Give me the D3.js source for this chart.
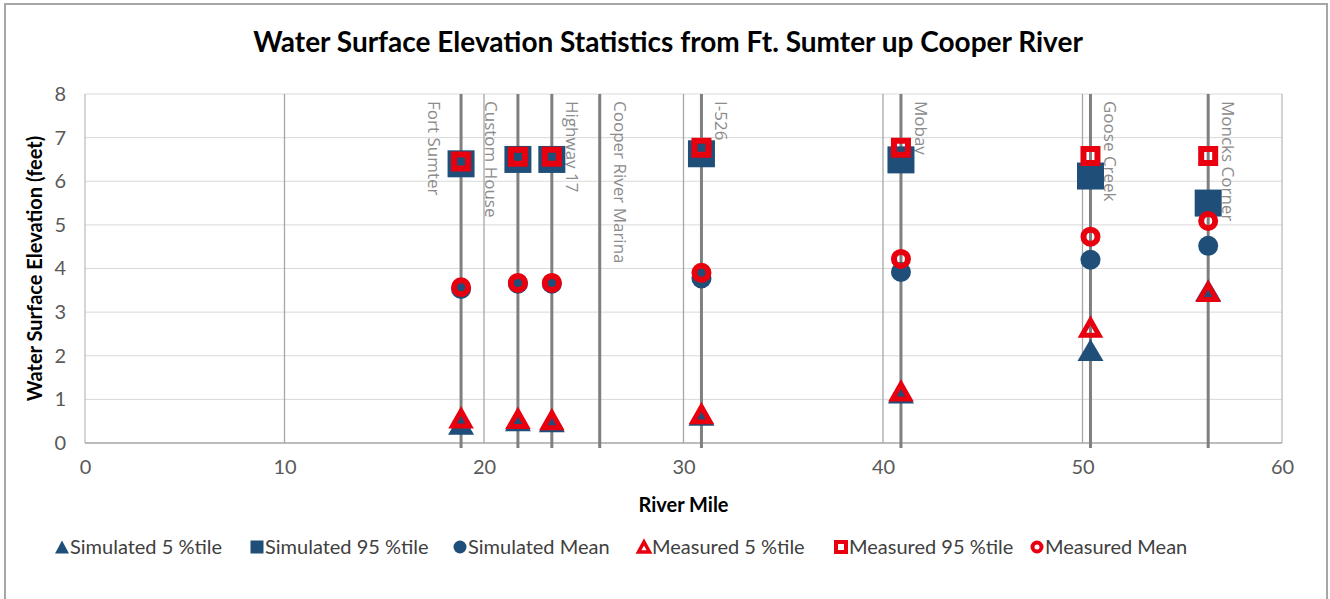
<!DOCTYPE html>
<html>
<head>
<meta charset="utf-8">
<script src="https://cdn.jsdelivr.net/npm/d3@7"></script>
<style>
  html, body { margin: 0; padding: 0; background: #ffffff; }
  svg { display: block; }
</style>
</head>
<body>
<svg id="chart" width="1330" height="599"></svg>
<script>
// ---------------- data ----------------
const stations = ["Fort Sumter", "Custom House", "Highway 17", "Cooper River Marina", "I-526", "Mobay", "Goose Creek", "Moncks Corner"];
const stationMiles = [18.85, 21.7, 23.4, 25.8, 30.9, 40.9, 50.4, 56.3];
const labelSide = ["left", "left", "right", "right", "right", "right", "right", "right"];

const sim5     = [0.44, 0.52, 0.50, null, 0.65, 1.16, 2.13, 3.50];
const sim95    = [6.40, 6.50, 6.50, null, 6.63, 6.49, 6.12, 5.50];
const simMean  = [3.53, 3.65, 3.65, null, 3.77, 3.92, 4.20, 4.52];
const meas5    = [0.56, 0.55, 0.52, null, 0.66, 1.18, 2.64, 3.46];
const meas95   = [6.45, 6.56, 6.56, null, 6.77, 6.77, 6.58, 6.58];
const measMean = [3.57, 3.67, 3.67, null, 3.90, 4.22, 4.73, 5.09];

const seriesNames = ["Simulated 5 %tile", "Simulated 95 %tile", "Simulated Mean", "Measured 5 %tile", "Measured 95 %tile", "Measured Mean"];
const yTicks = [0, 1, 2, 3, 4, 5, 6, 7, 8];
const xTicks = [0, 10, 20, 30, 40, 50, 60];

const titleText = "Water Surface Elevation Statistics from Ft. Sumter up Cooper River";
const xTitle = "River Mile";
const yTitle = "Water Surface Elevation (feet)";

// ---------------- drawing ----------------
const BLUE = "#1f4e79";
const RED = "#e8000e";
const FONT = "Lato, 'Open Sans', sans-serif";

const svg = d3.select("#chart");
const x = d3.scaleLinear().domain([0, 60]).range([85, 1282]);
const y = d3.scaleLinear().domain([0, 8]).range([443, 94]);

// outer chart border
svg.append("rect").attr("x", 5).attr("y", 4).attr("width", 1322).attr("height", 610)
  .attr("fill", "#fff").attr("stroke", "#a6a6a6").attr("stroke-width", 2);

// title
svg.append("text").attr("x", 668).attr("y", 52).attr("text-anchor", "middle")
  .attr("font-family", FONT).attr("font-weight", "bold").attr("font-size", 28)
  .attr("fill", "#000").text(titleText);

// horizontal gridlines
svg.append("g").selectAll("line").data(yTicks.filter(d => d > 0)).join("line")
  .attr("x1", x(0)).attr("x2", x(60)).attr("y1", d => y(d)).attr("y2", d => y(d))
  .attr("stroke", "#d9d9d9").attr("stroke-width", 1);

// vertical gridlines
svg.append("g").selectAll("line").data(xTicks).join("line")
  .attr("x1", d => x(d)).attr("x2", d => x(d)).attr("y1", y(8)).attr("y2", y(0))
  .attr("stroke", d => d === 0 ? "#bfbfbf" : "#a6a6a6").attr("stroke-width", d => d === 60 ? 1 : 1.3);

// x axis line
svg.append("line").attr("x1", x(0)).attr("x2", x(60)).attr("y1", y(0)).attr("y2", y(0))
  .attr("stroke", "#a6a6a6").attr("stroke-width", 1.5);

// axes via d3 (labels only)
const yAxis = d3.axisLeft(y).tickValues(yTicks).tickFormat(d3.format("d")).tickSize(0).tickPadding(19);
const gy = svg.append("g").attr("transform", `translate(${x(0)},0)`).call(yAxis);
gy.select(".domain").remove();
gy.selectAll("text").attr("font-family", FONT).attr("font-size", 20).attr("fill", "#595959");

const xAxis = d3.axisBottom(x).tickValues(xTicks).tickFormat(d3.format("d")).tickSize(0).tickPadding(17);
const gx = svg.append("g").attr("transform", `translate(0,${y(0)})`).call(xAxis);
gx.select(".domain").remove();
gx.selectAll("text").attr("font-family", FONT).attr("font-size", 20).attr("fill", "#595959");

// axis titles
svg.append("text").attr("x", (x(0) + x(60)) / 2).attr("y", 512).attr("text-anchor", "middle")
  .attr("font-family", FONT).attr("font-weight", "bold").attr("font-size", 20)
  .attr("fill", "#000").text(xTitle);
svg.append("text").attr("transform", `translate(42,${(y(0) + y(8)) / 2}) rotate(-90)`)
  .attr("text-anchor", "middle")
  .attr("font-family", FONT).attr("font-weight", "bold").attr("font-size", 20)
  .attr("fill", "#000").text(yTitle);

// station lines
const stationData = stations.map((s, i) => ({ name: s, mile: stationMiles[i], side: labelSide[i] }));
svg.append("g").selectAll("line").data(stationData).join("line")
  .attr("x1", d => x(d.mile)).attr("x2", d => x(d.mile))
  .attr("y1", y(8)).attr("y2", y(0) + 5)
  .attr("stroke", "#7f7f7f").attr("stroke-width", 3);

// station labels (rotated, reading top to bottom)
svg.append("g").selectAll("text").data(stationData).join("text")
  .attr("transform", d => {
    const bx = d.side === "left" ? x(d.mile) - 33 : x(d.mile) + 14;
    return `translate(${bx},101) rotate(90)`;
  })
  .attr("font-family", "'Open Sans', sans-serif").attr("font-size", 17)
  .attr("fill", "#8c8c8c").text(d => d.name);

// marker shapes
function trianglePath(w, h) {
  const p = d3.path();
  p.moveTo(0, -h / 2); p.lineTo(w / 2, h / 2); p.lineTo(-w / 2, h / 2); p.closePath();
  return p.toString();
}
function squarePath(s) {
  const p = d3.path();
  p.rect(-s / 2, -s / 2, s, s);
  return p.toString();
}
function circlePath(r) {
  const p = d3.path();
  p.arc(0, 0, r, 0, 2 * Math.PI);
  p.closePath();
  return p.toString();
}

const markerStyles = [
  { path: trianglePath(26, 22), fill: BLUE, stroke: "none", sw: 0 },
  { path: squarePath(27), fill: BLUE, stroke: "none", sw: 0 },
  { path: circlePath(10), fill: BLUE, stroke: "none", sw: 0 },
  { path: trianglePath(17, 15), fill: "none", stroke: RED, sw: 5 },
  { path: squarePath(14), fill: "none", stroke: RED, sw: 6 },
  { path: circlePath(7), fill: "none", stroke: RED, sw: 6 }
];
const legendStyles = [
  { path: trianglePath(14, 13), fill: BLUE, stroke: "none", sw: 0 },
  { path: squarePath(13), fill: BLUE, stroke: "none", sw: 0 },
  { path: circlePath(6.5), fill: BLUE, stroke: "none", sw: 0 },
  { path: trianglePath(11, 10), fill: "none", stroke: RED, sw: 3.5 },
  { path: squarePath(10), fill: "none", stroke: RED, sw: 4 },
  { path: circlePath(4.5), fill: "none", stroke: RED, sw: 4 }
];

const allSeries = [sim5, sim95, simMean, meas5, meas95, measMean];
allSeries.forEach((vals, si) => {
  const pts = vals.map((v, i) => ({ v, mile: stationMiles[i] })).filter(d => d.v !== null);
  const st = markerStyles[si];
  svg.append("g").selectAll("path").data(pts).join("path")
    .attr("transform", d => `translate(${x(d.mile)},${y(d.v)})`)
    .attr("d", st.path).attr("fill", st.fill)
    .attr("stroke", st.stroke).attr("stroke-width", st.sw)
    .attr("stroke-linejoin", "miter");
});

// legend
const legendX = [62, 257, 460, 644, 841, 1037];
const lg = svg.append("g");
seriesNames.forEach((name, i) => {
  const st = legendStyles[i];
  lg.append("path").attr("transform", `translate(${legendX[i]},547)`)
    .attr("d", st.path).attr("fill", st.fill).attr("stroke", st.stroke).attr("stroke-width", st.sw);
  lg.append("text").attr("x", legendX[i] + 8).attr("y", 554)
    .attr("font-family", FONT).attr("font-size", 20).attr("fill", "#404040").text(name);
});
</script>
</body>
</html>
